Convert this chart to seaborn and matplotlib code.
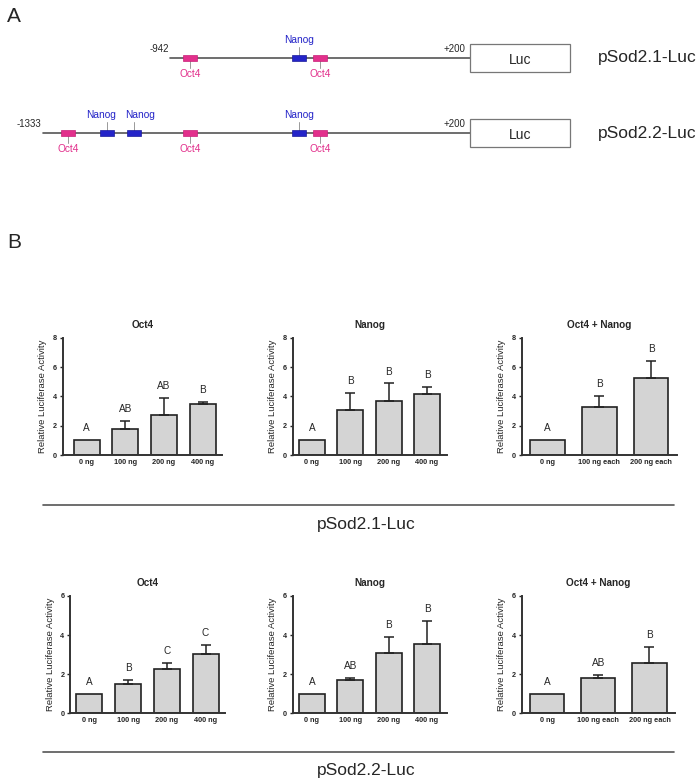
import numpy as np
import seaborn as sns
import matplotlib
matplotlib.use("Agg")
import matplotlib.pyplot as plt
from matplotlib.patches import Rectangle
from matplotlib.lines import Line2D

# ---- panel A: promoter constructs (positions in bp relative to TSS) ----
constructs = ["pSod2.1-Luc", "pSod2.2-Luc"]
start_labels = ["-942", "-1333"]
start_bp = [-877, -1333]
end_bp = 200
luc_end_bp = 559
oct4_sites = [[-805, -339], [-1243, -805, -339]]
nanog_sites = [[-414], [-1103, -1006, -414]]
nanog_label_shift = [[0], [-4, 4, 0]]   # points, keeps adjacent labels apart

# ---- panel B: luciferase assays ----
doses_single = ["0 ng", "100 ng", "200 ng", "400 ng"]
doses_combo = ["0 ng", "100 ng each", "200 ng each"]

sod21_oct4 = [1.0, 1.80, 2.70, 3.45]
sod21_oct4_err = [0, 0.55, 1.18, 0.17]
sod21_oct4_let = ["A", "AB", "AB", "B"]
sod21_nanog = [1.0, 3.06, 3.65, 4.17]
sod21_nanog_err = [0, 1.18, 1.23, 0.50]
sod21_nanog_let = ["A", "B", "B", "B"]
sod21_combo = [1.0, 3.27, 5.24]
sod21_combo_err = [0, 0.73, 1.15]
sod21_combo_let = ["A", "B", "B"]

sod22_oct4 = [1.0, 1.52, 2.27, 3.03]
sod22_oct4_err = [0, 0.18, 0.32, 0.45]
sod22_oct4_let = ["A", "B", "C", "C"]
sod22_nanog = [1.0, 1.70, 3.07, 3.53]
sod22_nanog_err = [0, 0.12, 0.83, 1.17]
sod22_nanog_let = ["A", "AB", "B", "B"]
sod22_combo = [1.0, 1.79, 2.59]
sod22_combo_err = [0, 0.19, 0.80]
sod22_combo_let = ["A", "AB", "B"]

sns.set_style("ticks")
plt.rcParams["font.family"] = ["Liberation Sans", "DejaVu Sans"]

W, H = 700, 780
fig = plt.figure(figsize=(W / 100, H / 100), dpi=100)


def px_axes(left, top, right, bottom):
    return fig.add_axes([left / W, 1 - bottom / H, (right - left) / W, (bottom - top) / H])


OCT4_C = "#e2308c"
NANOG_C = "#2424c8"

# schematic axes covering the top of the figure
sa = px_axes(0, 0, 700, 200)
sa.set_xlim(-1487.4, 1025.7)
sa.set_ylim(1.893, -0.773)
sa.axis("off")
for row, name in enumerate(constructs):
    sa.plot([start_bp[row], end_bp], [row, row], color="#555555", lw=1.2, zorder=1)
    sa.add_patch(Rectangle((end_bp, row - 0.187), luc_end_bp - end_bp, 0.373,
                           facecolor="white", edgecolor="#777777", lw=0.9))
    sa.text((end_bp + luc_end_bp) / 2, row + 0.03, "Luc", ha="center", va="center", fontsize=10)
    sa.text(end_bp - 15, row - 0.05, "+200", ha="right", va="bottom", fontsize=7)
    sa.text(start_bp[row] - 5, row - 0.05, start_labels[row], ha="right", va="bottom", fontsize=7)
    sa.text(598 / 700 * (1025.7 + 1487.4) - 1487.4, row, name, ha="left", va="center", fontsize=12.5)
    for bp in oct4_sites[row]:
        sa.add_patch(Rectangle((bp - 25, row - 0.045), 50, 0.09, facecolor=OCT4_C,
                               edgecolor="#c81f78", lw=0.5, zorder=3))
        sa.plot([bp, bp], [row, row + 0.13], color="#999999", lw=0.7, zorder=2)
        sa.annotate("Oct4", (bp, row), xytext=(0, -11.5), textcoords="offset points",
                    ha="center", va="center", fontsize=7.3, color=OCT4_C)
    for bp, dx in zip(nanog_sites[row], nanog_label_shift[row]):
        sa.add_patch(Rectangle((bp - 25, row - 0.045), 50, 0.09, facecolor=NANOG_C,
                               edgecolor="#1a1a9a", lw=0.5, zorder=3))
        sa.plot([bp, bp], [row, row - 0.15], color="#999999", lw=0.7, zorder=2)
        sa.annotate("Nanog", (bp, row), xytext=(dx, 13), textcoords="offset points",
                    ha="center", va="center", fontsize=7.3, color=NANOG_C)

fig.text(14 / W, 1 - 16 / H, "A", fontsize=15, ha="center", va="center")
fig.text(14 / W, 1 - 242 / H, "B", fontsize=15, ha="center", va="center")

panels = [
    # (left, top, right, bottom, title, labels, means, errs, letters, ymax, xlim)
    (62.7, 337.7, 222, 455, "Oct4", doses_single, sod21_oct4, sod21_oct4_err, sod21_oct4_let, 8, (-0.62, 3.5)),
    (292.7, 337.7, 447, 455, "Nanog", doses_single, sod21_nanog, sod21_nanog_err, sod21_nanog_let, 8, (-0.5, 3.52)),
    (521.7, 337.7, 677, 455, "Oct4 + Nanog", doses_combo, sod21_combo, sod21_combo_err, sod21_combo_let, 8, (-0.5, 2.5)),
    (70, 596, 225, 713.3, "Oct4", doses_single, sod22_oct4, sod22_oct4_err, sod22_oct4_let, 6, (-0.5, 3.5)),
    (292.7, 596, 447, 713.3, "Nanog", doses_single, sod22_nanog, sod22_nanog_err, sod22_nanog_let, 6, (-0.5, 3.52)),
    (521.7, 596, 675, 713.3, "Oct4 + Nanog", doses_combo, sod22_combo, sod22_combo_err, sod22_combo_let, 6, (-0.5, 2.5)),
]

for left, top, right, bottom, title, labels, means, errs, letters, ymax, xlim in panels:
    ax = px_axes(left, top, right, bottom)
    sns.barplot(x=labels, y=means, color="#d4d4d4", saturation=1, edgecolor="#222222",
                linewidth=1.2, width=0.67, errorbar=None, ax=ax, zorder=2)
    xs = np.arange(len(means))
    m = np.array(means)
    e = np.array(errs)
    has = e > 0
    ax.errorbar(xs[has], m[has], yerr=[np.zeros(has.sum()), e[has]], fmt="none",
                ecolor="#222222", elinewidth=1.1, capsize=3.6, capthick=1.1, zorder=3)
    for x, top_v, let in zip(xs, m + e, letters):
        ax.annotate(let, (x, top_v), xytext=(0, 5), textcoords="offset points",
                    ha="center", va="bottom", fontsize=7.2)
    ax.set_ylim(0, ymax)
    ax.set_yticks(np.arange(0, ymax + 1, 2))
    ax.set_xlim(*xlim)
    ax.set_title(title, fontsize=7.2, fontweight="bold", pad=7)
    ax.set_ylabel("Relative Luciferase Activity", fontsize=6.8, labelpad=4)
    ax.tick_params(axis="y", labelsize=5.2, length=2.5, width=1, pad=1.5)
    ax.tick_params(axis="x", labelsize=5.3, length=0, pad=3)
    for t in ax.get_xticklabels() + ax.get_yticklabels():
        t.set_fontweight("bold")
    sns.despine(ax=ax)
    for s in ("left", "bottom"):
        ax.spines[s].set_linewidth(1.4)
        ax.spines[s].set_color("#333333")

for y_line, y_txt, name in [(505, 525, constructs[0]), (752, 771, constructs[1])]:
    fig.add_artist(Line2D([43 / W, 674 / W], [1 - y_line / H] * 2, color="#555555", lw=1.2))
    fig.text(366 / W, 1 - y_txt / H, name, ha="center", va="center", fontsize=12.5)

fig.savefig("out.png", dpi=100)
